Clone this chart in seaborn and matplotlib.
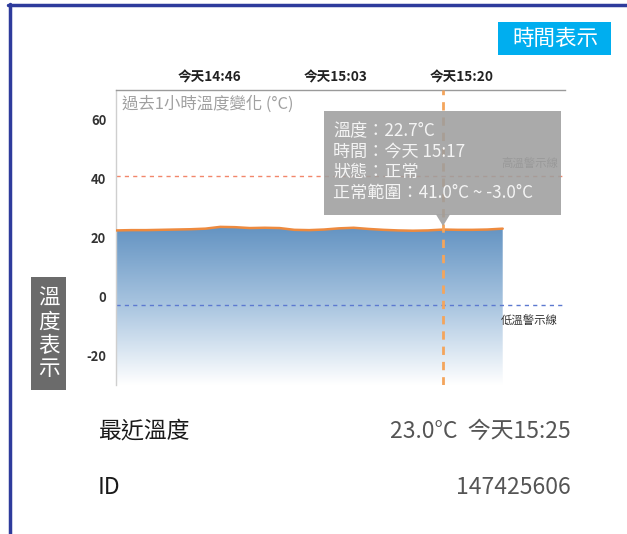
import matplotlib
matplotlib.use('Agg')
import matplotlib.pyplot as plt
import matplotlib.patches as mpatches
from matplotlib.lines import Line2D
from matplotlib.colors import LinearSegmentedColormap
import numpy as np
import pandas as pd
import seaborn as sns

# 資料 (分鐘 = 14:00 之後的分鐘數)
minutes = [33.5, 35.5, 37.5, 39.5, 41.5, 43.5, 45.5, 47.5, 49.5, 51.5, 53.5, 55.5, 57.5, 59.5,
           61.5, 63.5, 65.5, 67.5, 69.5, 71.5, 73.5, 75.5, 77.6, 79.5, 81.5, 83.5, 85.6]
temps = [22.4, 22.5, 22.5, 22.6, 22.7, 22.8, 23.0, 23.6, 23.5, 23.2, 23.3, 23.2, 22.6, 22.5,
         22.7, 23.1, 23.3, 22.9, 22.6, 22.4, 22.3, 22.4, 22.7, 22.6, 22.6, 22.7, 23.0]
tick_minutes = [46, 63, 80]
tick_labels = ['今天14:46', '今天15:03', '今天15:20']
y_ticks = [60, 40, 20, 0, -20]
high_line = 41.0
low_line = -3.0
cursor_minute = 77.6
tooltip_lines = ['溫度：22.7°C', '時間：今天 15:17', '狀態：正常', '正常範圍：41.0°C ~ -3.0°C']
chart_title = '過去1小時溫度變化 (°C)'
latest_label = '最近溫度'
latest_value = '23.0°C  今天15:25'
id_label = 'ID'
id_value = '147425606'

sns.set_theme(style='white')
plt.rcParams['font.family'] = ['Noto Sans CJK TC', 'DejaVu Sans']
plt.rcParams['axes.unicode_minus'] = False

W, H = 627, 534


def fx(px):
    return px / W


def fy(py):
    return 1 - py / H


fig = plt.figure(figsize=(6.27, 5.34), dpi=100)
ax = fig.add_axes([fx(116), fy(385), (565 - 116) / W, (385 - 90) / H])

df = pd.DataFrame({'minute': minutes, 'temp': temps})

# 漸層填色
cmap = LinearSegmentedColormap.from_list('tfill', ['#FFFFFF', '#A9C5E0', '#6393C2'])
poly = ax.fill_between(df['minute'], df['temp'], -30, color='none', lw=0)
grad = np.linspace(0, 1, 256).reshape(-1, 1)
img = ax.imshow(grad, extent=[minutes[0], minutes[-1], -30, max(temps)], aspect='auto',
                cmap=cmap, origin='lower', zorder=1)
img.set_clip_path(poly.get_paths()[0], ax.transData)

sns.lineplot(data=df, x='minute', y='temp', ax=ax, color='#EE8A3E', linewidth=1.8, zorder=3)

ax.axhline(high_line, color='#F2876B', ls=(0, (3, 3)), lw=1, zorder=2)
ax.axhline(low_line, color='#5C79D0', ls=(0, (3, 3)), lw=1, zorder=2)
ax.axvline(cursor_minute, color='#F4A55C', ls=(0, (3, 2.5)), lw=2, zorder=4)

ax.text(85.4, 45.2, '高溫警示線', fontsize=8.2, color='#777777', va='center', zorder=2)
ax.text(85.4, -8.1, '低溫警示線', fontsize=8.2, color='#333333', va='center', zorder=2)

ax.set_xlim(33.45, 94.0)
ax.set_ylim(-30, 70)
ax.set_xticks(tick_minutes)
ax.set_xticklabels(tick_labels, fontsize=9.8, fontweight='bold', color='#222222')
ax.set_yticks(y_ticks)
ax.set_yticklabels([str(v) for v in y_ticks], fontsize=9.3, fontweight='bold', color='#333333')
ax.xaxis.tick_top()
ax.tick_params(axis='x', length=0, pad=4)
ax.tick_params(axis='y', length=0, pad=7)
ax.set_xlabel('')
ax.set_ylabel('')
for side in ['right', 'bottom']:
    ax.spines[side].set_visible(False)
ax.spines['left'].set_color('#CFCFCF')
ax.spines['top'].set_color('#9A9A9A')
ax.spines['left'].set_linewidth(1)
ax.spines['top'].set_linewidth(1)

fig.text(fx(122), fy(104), chart_title, fontsize=11.8, color='#A0A0A0', va='center', ha='left')

# 提示框
box = mpatches.Rectangle((fx(324), fy(215)), (561 - 324) / W, (215 - 111) / H,
                         transform=fig.transFigure, facecolor='#9E9E9E', alpha=0.88,
                         edgecolor='none', zorder=5, clip_on=False)
ax.add_patch(box)
tri = mpatches.Polygon([(fx(436), fy(214.5)), (fx(450), fy(214.5)), (fx(443), fy(226))],
                       closed=True, transform=fig.transFigure, facecolor='#9E9E9E',
                       alpha=0.88, edgecolor='none', zorder=5, clip_on=False)
ax.add_patch(tri)
for i, line in enumerate(tooltip_lines):
    ax.text(fx(333), fy(131 + i * 20.6), line, transform=fig.transFigure, fontsize=12.3,
            color='#F4F4F4', va='center', ha='left', zorder=6)

# 時間表示 / 溫度表示 標籤
fig.add_artist(mpatches.Rectangle((fx(498), fy(55)), (611 - 498) / W, (55 - 22) / H,
                                  transform=fig.transFigure, facecolor='#00AEEF', edgecolor='none'))
fig.text(fx(555), fy(39), '時間表示', fontsize=15.5, color='white', ha='center', va='center')
fig.add_artist(mpatches.Rectangle((fx(31), fy(390)), (66 - 31) / W, (390 - 277) / H,
                                  transform=fig.transFigure, facecolor='#6B6B6B', edgecolor='none'))
for i, ch in enumerate('溫度表示'):
    fig.text(fx(48.5), fy(299 + i * 23.3), ch, fontsize=15.5, color='white', ha='center', va='center')

# 下方資訊
fig.text(fx(98), fy(431), latest_label, fontsize=16.5, color='#1A1A1A', fontweight='medium',
         ha='left', va='center')
fig.text(fx(571), fy(431), latest_value, fontsize=16.5, color='#555555', ha='right', va='center')
fig.text(fx(98), fy(488), id_label, fontsize=16.5, color='#1A1A1A', fontweight='medium',
         ha='left', va='center')
fig.text(fx(571), fy(488), id_value, fontsize=16.5, color='#555555', ha='right', va='center')

# 外框
fig.add_artist(Line2D([fx(9.5), fx(9.5)], [0, fy(3.5)], color='#2E3B9C', lw=2.5))
fig.add_artist(Line2D([fx(8.3), 1], [fy(4.5), fy(4.5)], color='#2E3B9C', lw=2.5))

fig.savefig('out.png', dpi=100)
